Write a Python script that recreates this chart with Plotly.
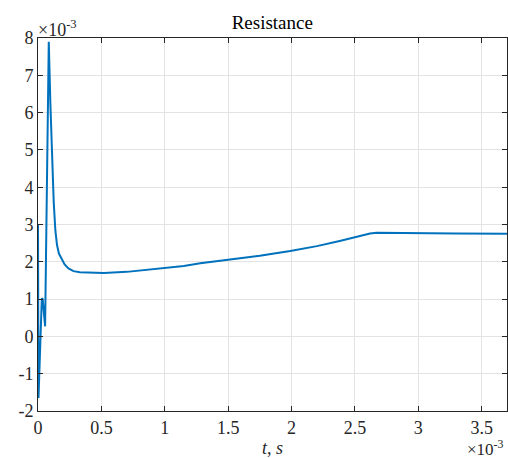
import plotly.graph_objects as go

# time in units of 1e-3 s, resistance in units of 1e-3
t_ms = [0.0, 0.004, 0.03, 0.037, 0.056, 0.085, 0.098, 0.111, 0.124, 0.137, 0.15, 0.165,
        0.185, 0.21, 0.24, 0.28, 0.33, 0.4, 0.52, 0.7, 0.85, 0.99, 1.15, 1.28, 1.49,
        1.75, 1.99, 2.2, 2.38, 2.46, 2.52, 2.57, 2.62, 2.67, 2.72, 3.0, 3.3, 3.7]
r_milli = [3.0, -1.65, 1.02, 1.0, 0.27, 7.9, 6.2, 4.64, 3.6, 2.84, 2.45, 2.22,
           2.08, 1.93, 1.82, 1.75, 1.72, 1.71, 1.70, 1.73, 1.78, 1.83, 1.89, 1.96, 2.05,
           2.16, 2.29, 2.42, 2.56, 2.63, 2.68, 2.73, 2.76, 2.78, 2.78, 2.77, 2.76, 2.75]

x_ticks = [0, 0.5, 1, 1.5, 2, 2.5, 3, 3.5]
x_tick_text = ["0", "0.5", "1", "1.5", "2", "2.5", "3", "3.5"]
y_ticks = [-2, -1, 0, 1, 2, 3, 4, 5, 6, 7, 8]
y_tick_text = ["-2", "-1", "0", "1", "2", "3", "4", "5", "6", "7", "8"]

FONT = "Times New Roman, Liberation Serif, serif"
AX = "#262626"

fig = go.Figure()
fig.add_trace(go.Scatter(x=t_ms, y=r_milli, mode="lines",
                         line=dict(color="#0072BD", width=2),
                         showlegend=False, hoverinfo="skip"))

axis_common = dict(showline=True, linecolor=AX, linewidth=1, mirror="ticks",
                   ticks="inside", ticklen=5, tickcolor=AX, showgrid=True,
                   gridcolor="#e3e3e3", gridwidth=1, zeroline=False, automargin=False,
                   tickfont=dict(family=FONT, size=18, color=AX))

fig.update_xaxes(range=[0, 3.7], tickvals=x_ticks, ticktext=x_tick_text, **axis_common)
fig.update_yaxes(range=[-2, 8], tickvals=y_ticks, ticktext=y_tick_text, **axis_common)

fig.update_layout(
    width=508, height=458,
    margin=dict(l=38, r=1, t=38, b=47, autoexpand=False),
    paper_bgcolor="white", plot_bgcolor="white",
    title=dict(text="Resistance", x=0.536, xanchor="center", y=0.952, yanchor="middle",
               font=dict(family=FONT, size=19, color="#000")),
    annotations=[
        dict(text="<i>t</i>, <i>s</i>", xref="paper", yref="paper", x=0.5, y=-0.066,
             xanchor="center", yanchor="top", showarrow=False,
             font=dict(family=FONT, size=18, color=AX)),
        dict(text="×10<sup>-3</sup>", xref="paper", yref="paper", x=-0.005, y=0.988,
             xanchor="left", yanchor="bottom", showarrow=False,
             font=dict(family=FONT, size=18, color=AX)),
        dict(text="×10<sup>-3</sup>", xref="paper", yref="paper", x=0.998, y=-0.133,
             xanchor="right", yanchor="bottom", showarrow=False,
             font=dict(family=FONT, size=17, color=AX)),
    ],
)

fig.write_html("out.html", config={"displayModeBar": False},
               post_script="document.body.style.margin='0';document.body.style.padding='0';")
